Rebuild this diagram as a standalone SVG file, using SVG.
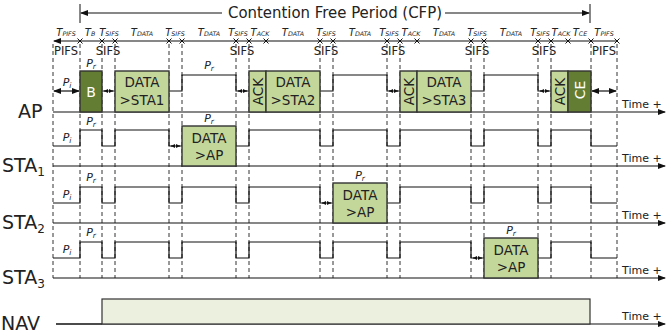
<svg xmlns="http://www.w3.org/2000/svg" width="667" height="334" viewBox="0 0 667 334">
<style>
text{font-family:"DejaVu Sans","Liberation Sans",sans-serif;fill:#222}
.dash{stroke:#333;stroke-width:1;stroke-dasharray:4 3;fill:none}
.sig{stroke:#111;stroke-width:1.2;fill:none}
.axis{stroke:#111;stroke-width:1.2;fill:none}
.box{fill:#c4d79b;stroke:#333;stroke-width:1.4}
.dark{fill:#637d32;stroke:#333;stroke-width:1.4}
.nav{fill:#ebf1de;stroke:#333;stroke-width:1.2}
.bt{font-size:13.5px;text-anchor:middle}
.wt{font-size:14px;text-anchor:middle;fill:#fff}
.row{font-size:19px}
.sub{font-size:12px}
.hdr{font-size:10px;font-style:italic;text-anchor:middle}
.hs{font-size:6.3px}
.gap{font-size:11.5px;text-anchor:middle}
.p{font-size:11px;font-style:italic;text-anchor:middle}
.ps{font-size:7.5px}
.time{font-size:11px}
.tick{stroke:#111;stroke-width:1}
</style>
<defs>
<marker id="ah" markerWidth="8" markerHeight="6" refX="7" refY="3" orient="auto" markerUnits="userSpaceOnUse"><path d="M0,0 L8,3 L0,6 z" fill="#111"/></marker>
<marker id="ahs" markerWidth="8" markerHeight="6" refX="7" refY="3" orient="auto-start-reverse" markerUnits="userSpaceOnUse"><path d="M0,0 L8,3 L0,6 z" fill="#111"/></marker>
<marker id="tiny" markerWidth="4" markerHeight="4" refX="4" refY="2" orient="auto-start-reverse" markerUnits="userSpaceOnUse"><path d="M0,0 L4,2 L0,4 z" fill="#111"/></marker>
<g id="xm"><path d="M-2.5,-2.5 L2.5,2.5 M-2.5,2.5 L2.5,-2.5" stroke="#111" stroke-width="1"/></g>
</defs>

<g id="cfp-header">
<line class="tick" x1="80" y1="4" x2="80" y2="23"/>
<line class="tick" x1="590" y1="4" x2="590" y2="23"/>
<line class="axis" x1="222" y1="13" x2="81" y2="13" marker-end="url(#ah)"/>
<line class="axis" x1="445" y1="13" x2="589" y2="13" marker-end="url(#ah)"/>
<text x="335" y="18" font-size="15" text-anchor="middle" textLength="214" lengthAdjust="spacingAndGlyphs">Contention Free Period (CFP)</text>
</g>

<g id="time-ruler">
<line class="axis" x1="617" y1="41" x2="54" y2="41" marker-end="url(#ah)"/>
<use href="#xm" x="80" y="41"/><use href="#xm" x="102" y="41"/><use href="#xm" x="115" y="41"/>
<use href="#xm" x="169" y="41"/><use href="#xm" x="182" y="41"/><use href="#xm" x="236" y="41"/>
<use href="#xm" x="249" y="41"/><use href="#xm" x="266" y="41"/><use href="#xm" x="320" y="41"/>
<use href="#xm" x="333" y="41"/><use href="#xm" x="387" y="41"/><use href="#xm" x="400" y="41"/>
<use href="#xm" x="417" y="41"/><use href="#xm" x="471" y="41"/><use href="#xm" x="484" y="41"/>
<use href="#xm" x="538" y="41"/><use href="#xm" x="551" y="41"/><use href="#xm" x="568" y="41"/>
<use href="#xm" x="591" y="41"/><use href="#xm" x="617" y="41"/>
<text class="hdr" x="66" y="36">T<tspan class="hs">PIFS</tspan></text>
<text class="hdr" x="90" y="36">T<tspan class="hs">B</tspan></text>
<text class="hdr" x="109" y="36">T<tspan class="hs">SIFS</tspan></text>
<text class="hdr" x="142" y="36">T<tspan class="hs">DATA</tspan></text>
<text class="hdr" x="175" y="36">T<tspan class="hs">SIFS</tspan></text>
<text class="hdr" x="209" y="36">T<tspan class="hs">DATA</tspan></text>
<text class="hdr" x="238" y="36">T<tspan class="hs">SIFS</tspan></text>
<text class="hdr" x="260" y="36">T<tspan class="hs">ACK</tspan></text>
<text class="hdr" x="293" y="36">T<tspan class="hs">DATA</tspan></text>
<text class="hdr" x="326" y="36">T<tspan class="hs">SIFS</tspan></text>
<text class="hdr" x="360" y="36">T<tspan class="hs">DATA</tspan></text>
<text class="hdr" x="389" y="36">T<tspan class="hs">SIFS</tspan></text>
<text class="hdr" x="411" y="36">T<tspan class="hs">ACK</tspan></text>
<text class="hdr" x="444" y="36">T<tspan class="hs">DATA</tspan></text>
<text class="hdr" x="477" y="36">T<tspan class="hs">SIFS</tspan></text>
<text class="hdr" x="511" y="36">T<tspan class="hs">DATA</tspan></text>
<text class="hdr" x="540" y="36">T<tspan class="hs">SIFS</tspan></text>
<text class="hdr" x="561" y="36">T<tspan class="hs">ACK</tspan></text>
<text class="hdr" x="580" y="36">T<tspan class="hs">CE</tspan></text>
<text class="hdr" x="604" y="36">T<tspan class="hs">PIFS</tspan></text>
<text class="gap" x="66" y="55">PIFS</text>
<text class="gap" x="108" y="55">SIFS</text>
<text class="gap" x="242" y="55">SIFS</text>
<text class="gap" x="326" y="55">SIFS</text>
<text class="gap" x="393" y="55">SIFS</text>
<text class="gap" x="477" y="55">SIFS</text>
<text class="gap" x="544" y="55">SIFS</text>
<text class="gap" x="604" y="55">PIFS</text>
</g>

<g id="guides">
<path class="dash" d="M53,44V278M80,44V278M102,44V278M115,44V278M169,44V278M182,44V278M236,44V278M249,44V278M320,44V278M333,44V278M387,44V278M400,44V278M471,44V278M484,44V278M538,44V278M551,44V278M591,44V278M617,44V278"/>
</g>

<g id="axes">
<line class="axis" x1="53" y1="112" x2="665" y2="112" marker-end="url(#ah)"/>
<line class="axis" x1="53" y1="166" x2="665" y2="166" marker-end="url(#ah)"/>
<line class="axis" x1="53" y1="223" x2="665" y2="223" marker-end="url(#ah)"/>
<line class="axis" x1="53" y1="278" x2="665" y2="278" marker-end="url(#ah)"/>
<line class="axis" x1="56" y1="324" x2="665" y2="324" marker-end="url(#ah)"/>
<text class="time" x="622" y="108">Time +</text>
<text class="time" x="622" y="162">Time +</text>
<text class="time" x="622" y="219">Time +</text>
<text class="time" x="622" y="274">Time +</text>
<text class="time" x="622" y="320">Time +</text>
<text class="row" x="18" y="118">AP</text>
<text class="row" x="2" y="172">STA<tspan class="sub" dy="4">1</tspan></text>
<text class="row" x="2" y="229">STA<tspan class="sub" dy="4">2</tspan></text>
<text class="row" x="2" y="284">STA<tspan class="sub" dy="4">3</tspan></text>
<text class="row" x="1" y="330">NAV</text>
</g>

<g id="connectors">
<path class="sig" d="M102,91H115M169,91H182V75H236V91H249M320,91H333V75H387V91H400M471,91H484V75H538V91H551"/>
<line class="sig" x1="54" y1="91" x2="79" y2="91" marker-start="url(#ahs)" marker-end="url(#ahs)"/>
<line class="sig" x1="592" y1="91" x2="616" y2="91" marker-start="url(#ahs)" marker-end="url(#ahs)"/>
<path class="sig" d="M53,146H80V130H102V146H115V130H169V146H182M236,146H249V130H320V146H333V130H387V146H400V130H471V146H484V130H538V146H551V130H591V146H617"/>
<path class="sig" d="M53,203H80V187H102V203H115V187H169V203H182V187H236V203H249V187H320V203H333M387,203H400V187H471V203H484V187H538V203H551V187H591V203H617"/>
<path class="sig" d="M53,258H80V242H102V258H115V242H169V258H182V242H236V258H249V242H320V258H333V242H387V258H400V242H471V258H484M538,258H551V242H591V258H617"/>
<g stroke="#111" stroke-width="1" stroke-dasharray="1.5 1">
<line x1="104" y1="91" x2="113" y2="91" marker-start="url(#tiny)" marker-end="url(#tiny)"/>
<line x1="238" y1="91" x2="247" y2="91" marker-start="url(#tiny)" marker-end="url(#tiny)"/>
<line x1="389" y1="91" x2="398" y2="91" marker-start="url(#tiny)" marker-end="url(#tiny)"/>
<line x1="540" y1="91" x2="549" y2="91" marker-start="url(#tiny)" marker-end="url(#tiny)"/>
<line x1="171" y1="146" x2="180" y2="146" marker-start="url(#tiny)" marker-end="url(#tiny)"/>
<line x1="322" y1="203" x2="331" y2="203" marker-start="url(#tiny)" marker-end="url(#tiny)"/>
<line x1="473" y1="258" x2="482" y2="258" marker-start="url(#tiny)" marker-end="url(#tiny)"/>
</g>
<path class="sig" d="M56,324H102"/>
</g>

<g id="labels-p">
<text class="p" x="67" y="86">P<tspan class="ps" dy="2">i</tspan></text>
<text class="p" x="91" y="67">P<tspan class="ps" dy="2">r</tspan></text>
<text class="p" x="209" y="69">P<tspan class="ps" dy="2">r</tspan></text>
<text class="p" x="67" y="141">P<tspan class="ps" dy="2">i</tspan></text>
<text class="p" x="91" y="125">P<tspan class="ps" dy="2">r</tspan></text>
<text class="p" x="209" y="122">P<tspan class="ps" dy="2">r</tspan></text>
<text class="p" x="67" y="198">P<tspan class="ps" dy="2">i</tspan></text>
<text class="p" x="91" y="181">P<tspan class="ps" dy="2">r</tspan></text>
<text class="p" x="360" y="179">P<tspan class="ps" dy="2">r</tspan></text>
<text class="p" x="67" y="253">P<tspan class="ps" dy="2">i</tspan></text>
<text class="p" x="91" y="236">P<tspan class="ps" dy="2">r</tspan></text>
<text class="p" x="511" y="234">P<tspan class="ps" dy="2">r</tspan></text>
</g>

<g id="ap-beacon"><rect class="dark" x="80" y="71" width="22" height="41"/><text class="wt" x="91" y="97">B</text></g>
<g id="ap-data-sta1"><rect class="box" x="115" y="71" width="54" height="41"/><text class="bt" x="142" y="87">DATA</text><text class="bt" x="142" y="105">&gt;STA1</text></g>
<g id="ap-ack1"><rect class="box" x="249" y="71" width="17" height="41"/><text class="bt" transform="translate(262.5,91.5) rotate(-90)" x="0" y="0">ACK</text></g>
<g id="ap-data-sta2"><rect class="box" x="266" y="71" width="54" height="41"/><text class="bt" x="293" y="87">DATA</text><text class="bt" x="293" y="105">&gt;STA2</text></g>
<g id="ap-ack2"><rect class="box" x="400" y="71" width="17" height="41"/><text class="bt" transform="translate(413.5,91.5) rotate(-90)" x="0" y="0">ACK</text></g>
<g id="ap-data-sta3"><rect class="box" x="417" y="71" width="54" height="41"/><text class="bt" x="444" y="87">DATA</text><text class="bt" x="444" y="105">&gt;STA3</text></g>
<g id="ap-ack3"><rect class="box" x="551" y="71" width="17" height="41"/><text class="bt" transform="translate(564.5,91.5) rotate(-90)" x="0" y="0">ACK</text></g>
<g id="ap-ce"><rect class="dark" x="568" y="71" width="23" height="41"/><text class="wt" transform="translate(584.5,90) rotate(-90)" x="0" y="0">CE</text></g>
<g id="sta1-data"><rect class="box" x="182" y="126" width="54" height="40"/><text class="bt" x="209" y="143">DATA</text><text class="bt" x="209" y="160">&gt;AP</text></g>
<g id="sta2-data"><rect class="box" x="333" y="183" width="54" height="40"/><text class="bt" x="360" y="200">DATA</text><text class="bt" x="360" y="217">&gt;AP</text></g>
<g id="sta3-data"><rect class="box" x="484" y="238" width="54" height="40"/><text class="bt" x="511" y="255">DATA</text><text class="bt" x="511" y="272">&gt;AP</text></g>
<g id="nav"><rect class="nav" x="102" y="299" width="488" height="25"/></g>
</svg>
